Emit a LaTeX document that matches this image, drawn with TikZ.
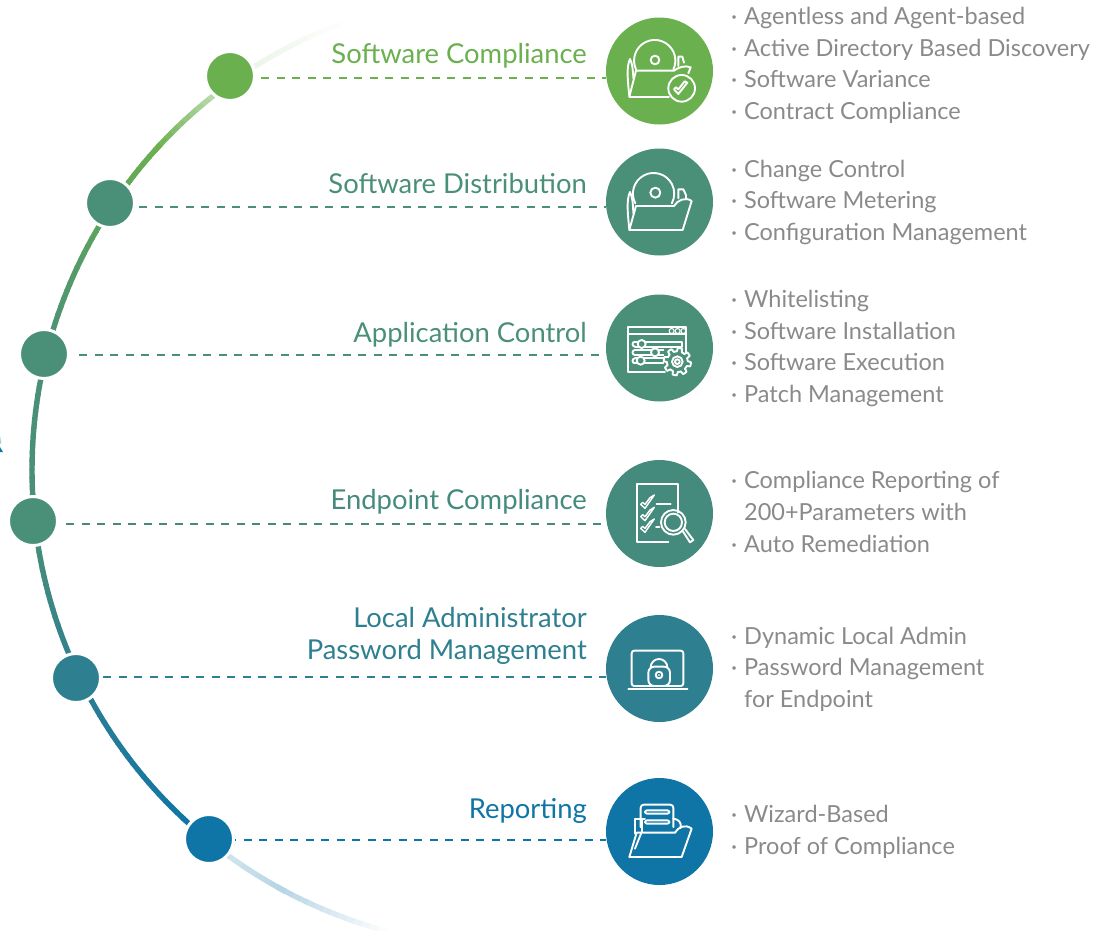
\documentclass[tikz,border=0pt]{standalone}
\usepackage{fontspec}
\setmainfont{Lato}
\definecolor{cgr}{HTML}{6AB04F}
\definecolor{cmd}{HTML}{4A8F78}
\definecolor{cnd}{HTML}{458B7D}
\definecolor{ctl}{HTML}{2E7F90}
\definecolor{cbl}{HTML}{0F75A6}
\definecolor{ctxt}{HTML}{8A8A8A}
\newcommand{\seg}[4]{%
  \foreach \a in {#1,\the\numexpr#1+1\relax,...,#2}{%
    \pgfmathsetmacro{\p}{100*(\a-#1)/(#2-#1)}%
    \colorlet{segc}{#4!\p!#3}%
    \draw[line width=5.4pt,segc] ({509+477*cos(\a)},{470+477*sin(\a)}) -- ({509+477*cos(\a+1.15)},{470+477*sin(\a+1.15)});
  }}
\tikzset{
  dot/.style={circle,fill=#1,draw=white,line width=3pt,minimum size=49pt,inner sep=0pt},
  bigc/.style={circle,fill=#1,minimum size=107pt,inner sep=0pt},
  dashc/.style={color=#1,line width=2pt,dash pattern=on 8pt off 7.5pt},
  head/.style={anchor=base east,inner sep=0pt,font=\fontsize{27.4}{28}\selectfont,text=#1},
  item/.style={anchor=base west,inner sep=0pt,font=\fontsize{23.5}{24}\selectfont,text=ctxt},
  ico/.style={white,line width=1.9pt,line join=round,line cap=round},
  icosp/.style={shift={#1},x=0.3333pt,y=-0.3333pt}
}
\begin{document}
\begin{tikzpicture}[x=1pt,y=-1pt]
\useasboundingbox (0,0) rectangle (1111,930);
% arc with fading colour
\seg{104}{118}{white}{cbl!30!white}
\seg{118}{126}{cbl!30!white}{cbl!62!white}
\seg{126}{131}{cbl!62!white}{cbl}
\seg{131}{154}{cbl}{ctl}
\seg{154}{172}{ctl}{cmd}
\seg{172}{194}{cmd}{cmd}
\seg{194}{222}{cmd}{cgr}
\seg{222}{232}{cgr}{cgr!42!white}
\seg{232}{238}{cgr!42!white}{cgr!12!white}
\seg{238}{250}{cgr!12!white}{white}
% stray mark at the left edge
\fill[cbl!35!white] (0,436) -- (1.5,443) -- (0,444) -- cycle;
\fill[cbl] (0,447) -- (3,452) -- (0,452) -- cycle;
% dots
\node[dot=cgr] (d1) at (230,76) {};
\node[dot=cmd] (d2) at (110,203) {};
\node[dot=cmd] (d3) at (44,354) {};
\node[dot=cmd] (d4) at (33,521) {};
\node[dot=ctl] (d5) at (76,678) {};
\node[dot=cbl] (d6) at (209,839) {};
% big circles
\coordinate (s1) at (261,78); \coordinate (e1) at (606,78);
\coordinate (s2) at (139,207); \coordinate (e2) at (606,207);
\coordinate (s3) at (79,354.5); \coordinate (e3) at (606,354.5);
\coordinate (s4) at (66,524); \coordinate (e4) at (606,524);
\coordinate (s5) at (103,677); \coordinate (e5) at (606,677);
\coordinate (s6) at (235,840); \coordinate (e6) at (606,840);
\draw[dashc=cgr] (s1) -- (e1);
\draw[dashc=cmd] (s2) -- (e2);
\draw[dashc=cmd] (s3) -- (e3);
\draw[dashc=cnd] (s4) -- (e4);
\draw[dashc=ctl] (s5) -- (e5);
\draw[dashc=cbl,dash phase=7pt] (s6) -- (e6);
\node[bigc=cgr] (c1) at (659.5,71) {};
\node[bigc=cmd] (c2) at (659.5,202) {};
\node[bigc=cmd] (c3) at (659.5,348) {};
\node[bigc=cnd] (c4) at (659.5,513.5) {};
\node[bigc=ctl] (c5) at (659.5,668.5) {};
\node[bigc=cbl] (c6) at (659.5,831.5) {};
% headings
\node[head=cgr] (h1) at (587,63) {Software Compliance};
\node[head=cmd] (h2) at (587,193) {Software Distribution};
\node[head=cmd] (h3) at (587,342) {Application Control};
\node[head=cnd] (h4) at (587,509) {Endpoint Compliance};
\node[head=ctl] (h5a) at (587,627) {Local Administrator};
\node[head=ctl] (h5b) at (587,659) {Password Management};
\node[head=cbl] (h6) at (587,818) {Reporting};
% lists
\foreach \n/\y/\t in {
 a/24/Agentless and Agent-based,
 b/56/Active Directory Based Discovery,
 c/87/Software Variance,
 d/119/Contract Compliance,
 e/177/Change Control,
 f/208/Software Metering,
 g/240/Configuration Management,
 h/307/Whitelisting,
 i/339/Software Installation,
 j/370/Software Execution,
 k/402/Patch Management,
 l/488/Compliance Reporting of,
 n/552/Auto Remediation,
 o/644/Dynamic Local Admin,
 p/675/Password Management,
 r/822/Wizard-Based,
 s/854/Proof of Compliance}{
  \node[item] (t\n) at (744,\y) {\t};
  \node[item] (b\n) at (731,\y) {·};
}
\node[item] (tm) at (744,520) {200+Parameters with};
\node[item] (tq) at (744,707) {for Endpoint};
% icon 1
\begin{scope}[icosp={(600,10)}]
 \draw[ico] (108,178) arc[start angle=155,end angle=385,radius=62];
 \draw[ico] (165,150) circle (13);
 \draw[ico] (88,260) -- (108,182) -- (222,182) .. controls (235,172) and (255,165) .. (272,172) -- (265,190);
 \draw[ico] (88,260) -- (207,260);
 \draw[ico] (88,258) .. controls (84,220) and (78,170) .. (90,147) .. controls (97,160) and (99,180) .. (100,205);
 \draw[ico] (235,168) -- (235,140) -- (247,140) -- (252,158);
 \fill[cgr] (245,235) circle (40);
 \draw[ico] (245,235) circle (40);
 \draw[ico] (222,238) -- (235,252) -- (262,218) -- (254,214) -- (235,238) -- (228,232) -- cycle;
\end{scope}
% icon 2
\begin{scope}[icosp={(600,140)}]
 \draw[ico] (106,190) arc[start angle=152,end angle=388,radius=62];
 \draw[ico] (166,158) circle (15);
 \draw[ico] (88,270) -- (108,198) -- (222,198) .. controls (232,180) and (258,170) .. (275,183) -- (248,270) -- cycle;
 \draw[ico] (88,268) .. controls (84,230) and (78,180) .. (90,156) .. controls (97,170) and (99,190) .. (100,220);
 \draw[ico] (235,175) -- (235,148) -- (250,148) -- (258,165) -- (258,175);
\end{scope}
% icon 3
\begin{scope}[icosp={(600,290)}]
 \draw[ico] (195,245) -- (85,245) -- (85,110) -- (258,110) -- (258,190);
 \draw[ico] (85,133) -- (258,133);
 \foreach \x in {215,233,250}{\draw[ico,line width=1.1pt] (\x,123) circle (7.5);}
 \draw[ico] (135,155) -- (245,155) -- (245,170) -- (135,170);
 \draw[ico] (105,180) -- (190,180); \draw[ico] (105,195) -- (190,195);
 \draw[ico] (105,205) -- (190,205); \draw[ico] (105,220) -- (190,220);
 \draw[ico] (105,155) -- (115,155); \draw[ico] (105,170) -- (115,170);
 \draw[ico] (105,155) arc[start angle=270,end angle=90,radius=7.5];
 \draw[ico] (105,180) arc[start angle=270,end angle=90,radius=7.5];
 \draw[ico] (105,205) arc[start angle=270,end angle=90,radius=7.5];
 \draw[ico,fill=cmd] (125,162) circle (12);
 \draw[ico,fill=cmd] (165,187) circle (12);
 \draw[ico,fill=cmd] (122,212) circle (12);
 \draw[ico,fill=cmd] plot[domain=0:357.5,samples=144] ({232+(31+10*max(0,min(1,0.5+1.6*sin(8*\x))))*cos(\x)},{215+(31+10*max(0,min(1,0.5+1.6*sin(8*\x))))*sin(\x)}) -- cycle;
 \draw[ico] (232,215) circle (16);
 \draw[ico] (232,215) circle (7);
\end{scope}
% icon 4
\begin{scope}[icosp={(600,455)}]
 \draw[ico] (205,262) -- (110,262) -- (110,88) -- (235,88) -- (235,172);
 \draw[ico] (170,147) -- (212,147);
 \draw[ico] (168,217) -- (178,217);
 \foreach \y in {0,37,72}{
  \draw[ico,line width=1.4pt] (122,{148+\y}) -- (135,{160+\y}) -- (163,{120+\y}) -- (150,{128+\y}) -- (135,{148+\y}) -- (128,{142+\y}) -- cycle;}
 \draw[ico] (220,202) circle (37);
 \draw[ico] (220,202) circle (26);
 \draw[ico] (248,228) -- (270,262) -- (280,255) -- (255,222);
\end{scope}
% icon 5
\begin{scope}[icosp={(600,610)}]
 \draw[ico,rounded corners=2.5pt] (95,228) rectangle (250,122);
 \draw[ico] (85,237) -- (262,237);
 \draw[ico,fill=ctl] (152,172) arc[start angle=180,end angle=360,radius=25] -- (202,172) -- cycle;
 \draw[ico,fill=ctl,rounded corners=6pt] (145,170) -- (210,170) -- (210,228) -- (145,228) -- cycle;
 \draw[ico] (177,195) circle (10);
 \fill[white] (177,195) circle (3);
\end{scope}
% icon 6
\begin{scope}[icosp={(600,772)}]
 \draw[ico,rounded corners=3pt] (122,165) -- (122,98) -- (220,98) -- (220,165);
 \draw[ico,rounded corners=2pt] (135,115) rectangle (208,125);
 \draw[ico,rounded corners=2pt] (135,145) rectangle (208,155);
 \draw[ico] (220,140) .. controls (235,142) and (245,150) .. (242,168);
 \draw[ico] (105,185) -- (105,142) -- (135,142);
 \draw[ico] (125,142) -- (125,180);
 \draw[ico] (88,255) -- (110,182) -- (225,182) .. controls (235,165) and (255,155) .. (275,170) -- (245,255) -- cycle;
 \draw[ico] (105,230) -- (125,180) -- (125,182);
\end{scope}
\end{tikzpicture}
\end{document}
